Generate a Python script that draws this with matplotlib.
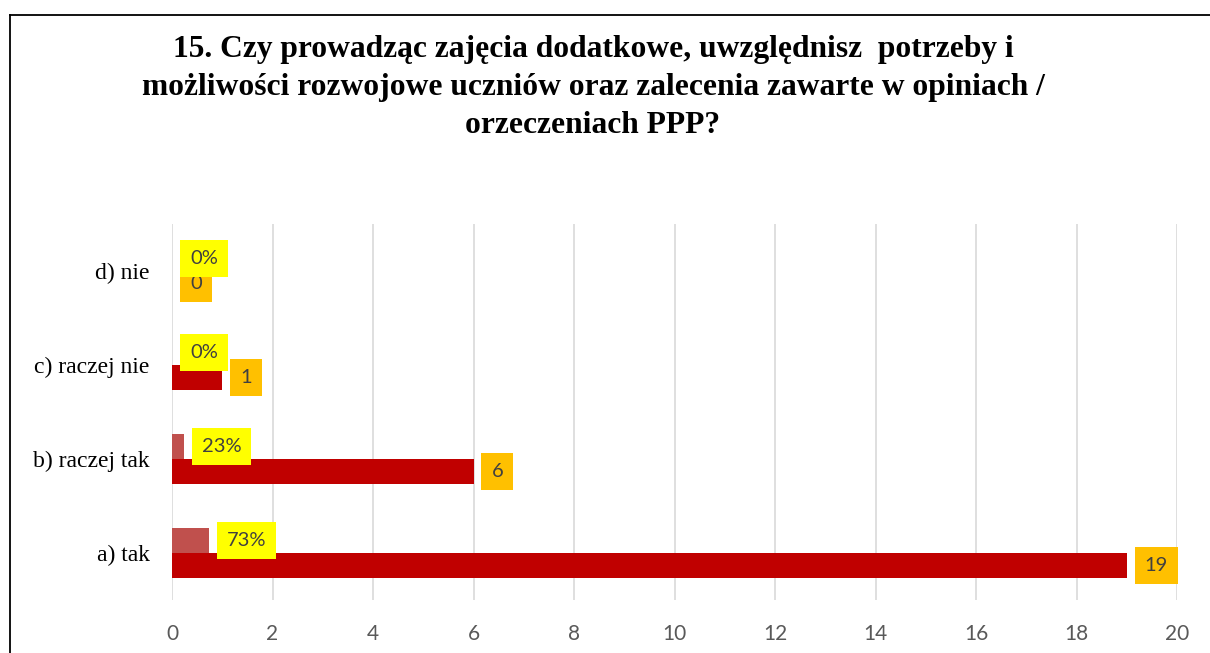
import matplotlib
matplotlib.use("Agg")
import matplotlib.pyplot as plt
from matplotlib.lines import Line2D

# dane z ankiety
categories = ["a) tak", "b) raczej tak", "c) raczej nie", "d) nie"]
counts = [19, 6, 1, 0]
percents = [0.73, 0.23, 0.0, 0.0]
xticks = list(range(0, 21, 2))

title = ("15. Czy prowadząc zajęcia dodatkowe, uwzględnisz  potrzeby i\n"
         "możliwości rozwojowe uczniów oraz zalecenia zawarte w opiniach /\n"
         "orzeczeniach PPP?")

W, H = 1210, 653
fig = plt.figure(figsize=(W / 100, H / 100), dpi=100)
ax = fig.add_axes([172 / W, 1 - 600 / H, (1177 - 172) / W, (600 - 224) / H])

bar_h = 0.265
pos = list(range(len(categories)))
ax.barh([p - bar_h / 2 for p in pos], counts, height=bar_h, color="#C00000", zorder=2)
ax.barh([p + bar_h / 2 for p in pos], percents, height=bar_h, color="#C0504D", zorder=2)

lab_font = "Lato"
lab_size = 14.5
for p, c in zip(pos, counts):
    ax.annotate(str(c), xy=(c, p - bar_h / 2), xytext=(13, 0), textcoords="offset points",
                ha="left", va="center", fontsize=lab_size, family=lab_font, color="#404040",
                bbox=dict(boxstyle="square,pad=0.5", fc="#FFC000", ec="none"), zorder=4)
for p, v in zip(pos, percents):
    ax.annotate("{:.0%}".format(v), xy=(v, p + bar_h / 2), xytext=(13, 0), textcoords="offset points",
                ha="left", va="center", fontsize=lab_size, family=lab_font, color="#404040",
                bbox=dict(boxstyle="square,pad=0.5", fc="#FFFF00", ec="none"), zorder=5)

ax.set_xlim(0, 20)
ax.set_ylim(-0.5, len(categories) - 0.5)
ax.set_xticks(xticks)
ax.set_xticklabels([str(t) for t in xticks], family=lab_font, fontsize=15, color="#595959")
ax.set_yticks(pos)
ax.set_yticklabels(categories, family="Liberation Serif", fontsize=17, color="black")
ax.tick_params(axis="both", length=0)
ax.tick_params(axis="x", pad=17.5)
ax.tick_params(axis="y", pad=16)
ax.grid(axis="x", color="#D9D9D9", lw=1.2, zorder=0)
for s in ax.spines.values():
    s.set_visible(False)

fig.text(593 / W, 1 - 35 / H, title, ha="center", va="top", family="Liberation Serif",
         fontweight="bold", fontsize=22.7, linespacing=1.4)

# ramka wykresu
fig.add_artist(Line2D([9.5 / W, 9.5 / W], [0, 1 - 15 / H], color="black", lw=1.3))
fig.add_artist(Line2D([9.5 / W, 1], [1 - 15 / H, 1 - 15 / H], color="black", lw=1.3))

fig.savefig("out.png", dpi=100)
